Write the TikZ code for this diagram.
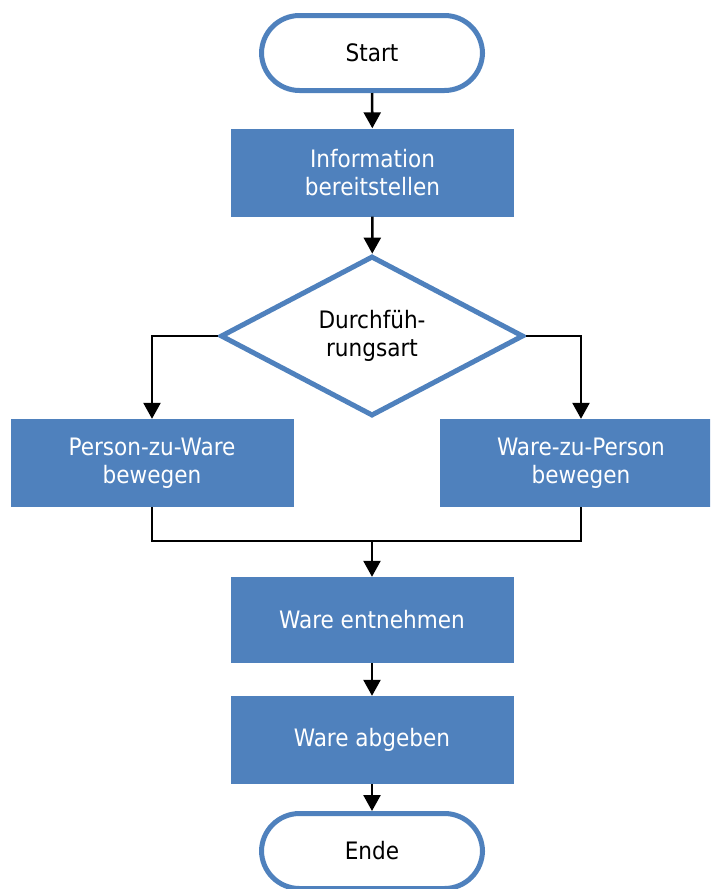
\documentclass[tikz,border=0pt]{standalone}
\usepackage{fontspec}
\setmainfont{DejaVu Sans Condensed}
\usetikzlibrary{shapes.geometric,arrows.meta}
\definecolor{flowblue}{HTML}{4F81BD}

\begin{document}
\begin{tikzpicture}[x=1pt,y=-1pt,
	every node/.style={font=\fontsize{24}{28}\selectfont,align=center,inner sep=0pt},
	terminal/.style={draw=flowblue,line width=5pt,fill=white,rectangle,rounded corners=38pt,minimum width=221pt,minimum height=75pt},
	process/.style={rectangle,fill=flowblue,text=white,minimum width=283pt,minimum height=88pt},
	decision/.style={draw=flowblue,line width=5pt,fill=white,diamond,minimum width=303pt,minimum height=160pt},
	flow/.style={line width=2.5pt,-{Triangle[length=16pt,width=17pt]}},
	mergeline/.style={line width=2.5pt}]
	\clip (0,0) rectangle (710,889);
	\node[terminal] (start)at(372,53) {Start};
	\node[process] (info)at(372.5,172.5) {Information\\bereitstellen};
	\node[decision] (art)at(372,336) {Durchfüh-\\rungsart};
	\node[process] (pzw)at(152,463) {Person-zu-Ware\\bewegen};
	\node[process] (wzp)at(581,463) {Ware-zu-Person\\bewegen};
	\coordinate (merge)at(372,541);
	\node[process,minimum height=86pt] (entn)at(372,620) {Ware entnehmen};
	\node[process] (abg)at(372,740) {Ware abgeben};
	\node[terminal] (ende)at(372,851) {Ende};
	\draw[flow] (start) -- (info);
	\draw[flow] (info) -- (art);
	\draw[flow] (art.west) -| (pzw.north);
	\draw[flow] (art.east) -| (wzp.north);
	\draw[mergeline] (pzw.south) |- (merge) -| (wzp.south);
	\draw[flow] (merge) -- (entn);
	\draw[flow] (entn) -- (abg);
	\draw[flow] (abg) -- (ende);
\end{tikzpicture}
\end{document}
